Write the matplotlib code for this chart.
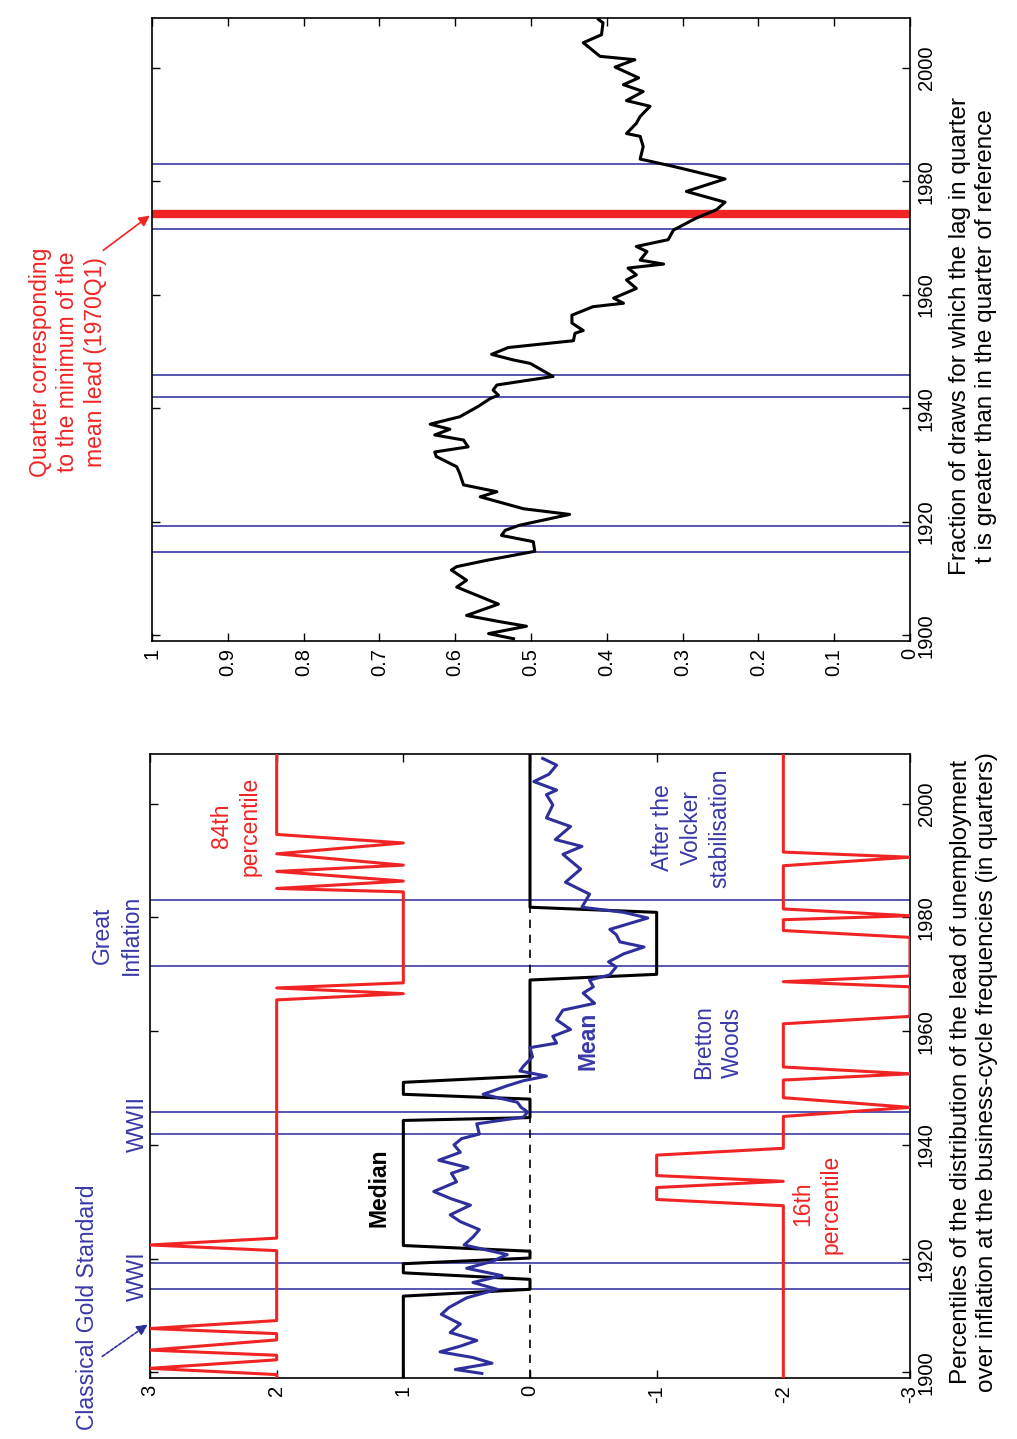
import matplotlib
matplotlib.use('Agg')
import matplotlib.pyplot as plt
from matplotlib.ticker import FixedLocator

plt.rcParams['font.family'] = ['Liberation Sans', 'DejaVu Sans']

# ---------------- data ----------------
year_ticks = [1900, 1920, 1940, 1960, 1980, 2000]
period_lines = [1914.7, 1919.2, 1941.9, 1945.8, 1971.5, 1983.0]
min_lead_quarter = 1974.25

# left panel: percentiles of the lead distribution (quarters)
p84_years = [1899.0, 1899.6, 1900.7, 1902.2, 1903.0, 1903.9, 1905.7, 1906.8, 1907.7, 1909.1,
             1921.4, 1922.4, 1923.6, 1965.5, 1966.6, 1967.6, 1968.5, 1984.5, 1985.1, 1986.4,
             1988.1, 1989.2, 1991.2, 1993.1, 1994.6, 2008.75]
p84_vals = [2, 2, 3, 2, 2, 3, 2, 2, 3, 2,
            2, 3, 2, 2, 1, 2, 1, 1, 2, 1,
            2, 1, 2, 1, 2, 2]

p16_years = [1899.0, 1929.3, 1930.4, 1932.5, 1933.6, 1934.6, 1938.2, 1939.4, 1945.0, 1946.6,
             1948.3, 1951.4, 1952.5, 1953.7, 1961.3, 1962.6, 1967.8, 1968.7, 1969.7, 1976.5,
             1977.7, 1979.6, 1980.3, 1981.5, 1989.1, 1990.6, 1991.5, 2008.75]
p16_vals = [-2, -2, -1, -1, -2, -1, -1, -2, -2, -3,
            -2, -2, -3, -2, -2, -3, -3, -2, -3, -3,
            -2, -2, -3, -2, -2, -3, -2, -2]

median_years = [1899.0, 1913.4, 1914.6, 1916.35, 1917.5, 1919.1, 1920.1, 1921.3, 1922.3, 1944.3,
                1944.8, 1948.05, 1948.9, 1951.0, 1952.1, 1969.0, 1970.0, 1980.9, 1981.8, 2008.75]
median_vals = [1, 1, 0, 0, 1, 1, 0, 0, 1, 1,
               0, 0, 1, 1, 0, 0, -1, -1, 0, 0]

mean_years = [1899.8, 1900.5, 1901.6, 1902.6, 1903.6, 1904.6, 1905.6, 1907.0, 1908.5, 1910.2,
              1911.4, 1913.1, 1914.6, 1915.8, 1917.0, 1918.3, 1919.5, 1920.7, 1922.4, 1923.8,
              1925.1, 1926.5, 1927.7, 1929.4, 1930.5, 1931.8, 1933.5, 1935.0, 1936.0, 1937.3,
              1938.7, 1940.0, 1941.1, 1941.9, 1943.7, 1944.9, 1945.8, 1946.6, 1947.5, 1948.9,
              1950.4, 1951.3, 1952.1, 1953.0, 1953.9, 1955.5, 1957.1, 1957.9, 1959.1, 1960.3,
              1962.0, 1963.7, 1964.9, 1966.7, 1967.8, 1969.0, 1969.9, 1971.3, 1972.2, 1973.6,
              1974.8, 1975.7, 1977.0, 1977.9, 1979.9, 1980.9, 1981.8, 1984.1, 1986.2, 1988.5,
              1991.1, 1992.5, 1993.7, 1996.0, 1997.5, 1999.8, 2001.6, 2002.4, 2003.9, 2005.2,
              2006.8, 2007.97]
mean_vals = [0.38, 0.59, 0.30, 0.45, 0.71, 0.55, 0.42, 0.63, 0.55, 0.70,
             0.64, 0.50, 0.26, 0.45, 0.22, 0.50, 0.30, 0.18, 0.52, 0.45,
             0.40, 0.55, 0.63, 0.47, 0.62, 0.76, 0.58, 0.62, 0.49, 0.72,
             0.55, 0.60, 0.54, 0.40, 0.42, 0.05, 0.02, 0.07, 0.10, 0.37,
             0.18, 0.05, -0.13, 0.08, 0.05, -0.02, 0.00, -0.21, -0.18, -0.32,
             -0.21, -0.26, -0.51, -0.42, -0.50, -0.47, -0.63, -0.68, -0.62, -0.74,
             -0.90, -0.71, -0.68, -0.63, -0.93, -0.74, -0.41, -0.47, -0.28, -0.40,
             -0.26, -0.41, -0.20, -0.32, -0.13, -0.18, -0.13, -0.21, -0.03, -0.15,
             -0.21, -0.10]

# right panel: fraction of draws with larger lag than in reference quarter
frac_years = [1899.4, 1900.3, 1901.6, 1902.4, 1903.5, 1905.5, 1908.5, 1909.7, 1911.5, 1912.1,
              1913.2, 1914.8, 1916.5, 1917.6, 1918.5, 1919.4, 1921.3, 1922.3, 1924.4, 1925.3,
              1926.5, 1928.5, 1929.7, 1931.5, 1932.3, 1933.2, 1934.4, 1935.3, 1936.3, 1937.2,
              1938.5, 1940.3, 1941.7, 1942.3, 1943.2, 1944.1, 1945.6, 1947.9, 1948.5, 1949.5,
              1950.7, 1951.9, 1953.2, 1953.7, 1955.0, 1956.4, 1957.9, 1958.5, 1959.4, 1961.1,
              1962.6, 1963.5, 1964.7, 1965.4, 1966.1, 1967.6, 1968.5, 1969.7, 1971.4, 1973.5,
              1975.0, 1976.3, 1978.2, 1980.4, 1982.6, 1983.9, 1986.1, 1987.9, 1988.4, 1990.2,
              1991.4, 1993.2, 1994.2, 1995.8, 1997.0, 1998.2, 2000.1, 2001.4, 2002.0, 2004.4,
              2005.8, 2007.9, 2008.5]
frac_vals = [0.523, 0.556, 0.506, 0.541, 0.585, 0.543, 0.598, 0.585, 0.605, 0.598,
             0.559, 0.495, 0.497, 0.539, 0.534, 0.515, 0.449, 0.510, 0.567, 0.545,
             0.589, 0.594, 0.598, 0.625, 0.627, 0.583, 0.589, 0.627, 0.607, 0.633,
             0.594, 0.570, 0.554, 0.543, 0.550, 0.545, 0.471, 0.501, 0.523, 0.552,
             0.530, 0.444, 0.442, 0.431, 0.446, 0.446, 0.418, 0.378, 0.391, 0.361,
             0.374, 0.361, 0.372, 0.325, 0.356, 0.347, 0.361, 0.319, 0.312, 0.282,
             0.255, 0.244, 0.295, 0.244, 0.312, 0.356, 0.352, 0.356, 0.374, 0.361,
             0.356, 0.343, 0.374, 0.352, 0.378, 0.358, 0.389, 0.363, 0.409, 0.431,
             0.407, 0.405, 0.411]

left_ticks = [3, 2, 1, 0, -1, -2, -3]
left_ticklabels = ['3', '2', '1', '0', '-1', '-2', '-3']
right_ticks = [1.0, 0.9, 0.8, 0.7, 0.6, 0.5, 0.4, 0.3, 0.2, 0.1, 0.0]
right_ticklabels = ['1', '0.9', '0.8', '0.7', '0.6', '0.5', '0.4', '0.3', '0.2', '0.1', '0']

# ---------------- style ----------------
W, H = 1017, 1439
YEAR_LIM = (1899.0, 2008.75)
BLUE_LINE = '#3a3aa6'
BLUE_MEAN = '#2f2f9c'
BLUE_TEXT = '#3838a8'
RED = '#f02424'
TICK_FS = 14.5
LAB_FS = 17.5
ANN_FS = 16.5

fig = plt.figure(figsize=(W / 100, H / 100), dpi=100)


def fx(x):
    return x / W


def fy(y):
    return 1 - y / H


def style(ax, xlim, xticks, xticklabels):
    ax.set_xlim(*xlim)
    ax.set_ylim(*YEAR_LIM)
    ax.yaxis.set_major_locator(FixedLocator(year_ticks))
    ax.set_yticklabels([str(t) for t in year_ticks], rotation=90, va='center')
    ax.yaxis.tick_right()
    ax.tick_params(axis='y', left=True, right=True, labelleft=False, labelright=True,
                   direction='in', length=6, width=1, labelsize=TICK_FS, pad=5)
    ax.set_xticks(xticks)
    ax.set_xticklabels(xticklabels, rotation=90)
    ax.tick_params(axis='x', top=True, bottom=True, direction='in', length=6, width=1,
                   labelsize=TICK_FS, pad=5)
    for s in ax.spines.values():
        s.set_linewidth(1.2)


# ---------- right (top) panel ----------
ax_r = fig.add_axes([fx(152), fy(641), (910 - 152) / W, (641 - 18) / H])
style(ax_r, (1.0, 0.0), right_ticks, right_ticklabels)
for yr in period_lines:
    ax_r.axhline(yr, color=BLUE_LINE, lw=1.2, zorder=1)
ax_r.axhline(min_lead_quarter, color=RED, lw=6, zorder=2)
ax_r.plot(frac_vals, frac_years, color='black', lw=2.2, zorder=3)

ax_r.annotate('', xy=(1.0, min_lead_quarter), xycoords='data',
              xytext=(101, H - 252), textcoords='figure pixels',
              arrowprops=dict(arrowstyle='-|>', color=RED, lw=1.2, mutation_scale=16),
              annotation_clip=False)

fig.text(fx(68), fy(362), 'Quarter corresponding\nto the minimum of the\nmean lead (1970Q1)',
         rotation=90, ha='center', va='center', multialignment='center',
         color=RED, fontsize=ANN_FS, linespacing=1.25)
fig.text(fx(973), fy(336),
         'Fraction of draws for which the lag in quarter\nt is greater than in the quarter of reference',
         rotation=90, ha='center', va='center', multialignment='center',
         color='black', fontsize=LAB_FS, linespacing=1.25)

# ---------- left (bottom) panel ----------
ax_l = fig.add_axes([fx(150), fy(1378), (910 - 150) / W, (1378 - 754) / H])
style(ax_l, (3.0, -3.0), left_ticks, left_ticklabels)
for yr in period_lines:
    ax_l.axhline(yr, color=BLUE_LINE, lw=1.2, zorder=1)
ax_l.axvline(0, color='black', lw=1.2, ls=(0, (5, 4)), zorder=1)
ax_l.plot(p84_vals, p84_years, color=RED, lw=2.2, zorder=3)
ax_l.plot(p16_vals, p16_years, color=RED, lw=2.2, zorder=3)
ax_l.plot(median_vals, median_years, color='black', lw=2.2, zorder=3)
ax_l.plot(mean_vals, mean_years, color=BLUE_MEAN, lw=2.2, zorder=4)

ax_l.annotate('', xy=(3.0, 1908.7), xycoords='data',
              xytext=(100, H - 1358), textcoords='figure pixels',
              arrowprops=dict(arrowstyle='-|>', color=BLUE_MEAN, lw=1.2, ls=(0, (2, 1)),
                              mutation_scale=16),
              annotation_clip=False)

txt = dict(rotation=90, ha='center', va='center', multialignment='center', linespacing=1.3)
fig.text(fx(88), fy(1307), 'Classical Gold Standard', color=BLUE_TEXT, fontsize=ANN_FS, **txt)
fig.text(fx(137), fy(1276), 'WWI', color=BLUE_TEXT, fontsize=ANN_FS, **txt)
fig.text(fx(137), fy(1124), 'WWII', color=BLUE_TEXT, fontsize=ANN_FS, **txt)
fig.text(fx(117), fy(935), 'Great\nInflation', color=BLUE_TEXT, fontsize=ANN_FS, **txt)
fig.text(fx(236), fy(826), '84th\npercentile', color=RED, fontsize=ANN_FS, **txt)
fig.text(fx(379), fy(1188), 'Median', color='black', fontsize=ANN_FS, fontweight='bold', **txt)
fig.text(fx(588), fy(1041), 'Mean', color=BLUE_TEXT, fontsize=ANN_FS, fontweight='bold', **txt)
fig.text(fx(718), fy(1042), 'Bretton\nWoods', color=BLUE_TEXT, fontsize=ANN_FS, **txt)
fig.text(fx(691), fy(828), 'After the\nVolcker\nstabilisation', color=BLUE_TEXT, fontsize=ANN_FS, **txt)
fig.text(fx(817), fy(1204), '16th\npercentile', color=RED, fontsize=ANN_FS, **txt)
fig.text(fx(974), fy(1072),
         'Percentiles of the distribution of the lead of unemployment\n'
         'over inflation at the business-cycle frequencies (in quarters)',
         color='black', fontsize=LAB_FS, rotation=90, ha='center', va='center',
         multialignment='center', linespacing=1.25)

fig.savefig('out.png', dpi=100, facecolor='white')
